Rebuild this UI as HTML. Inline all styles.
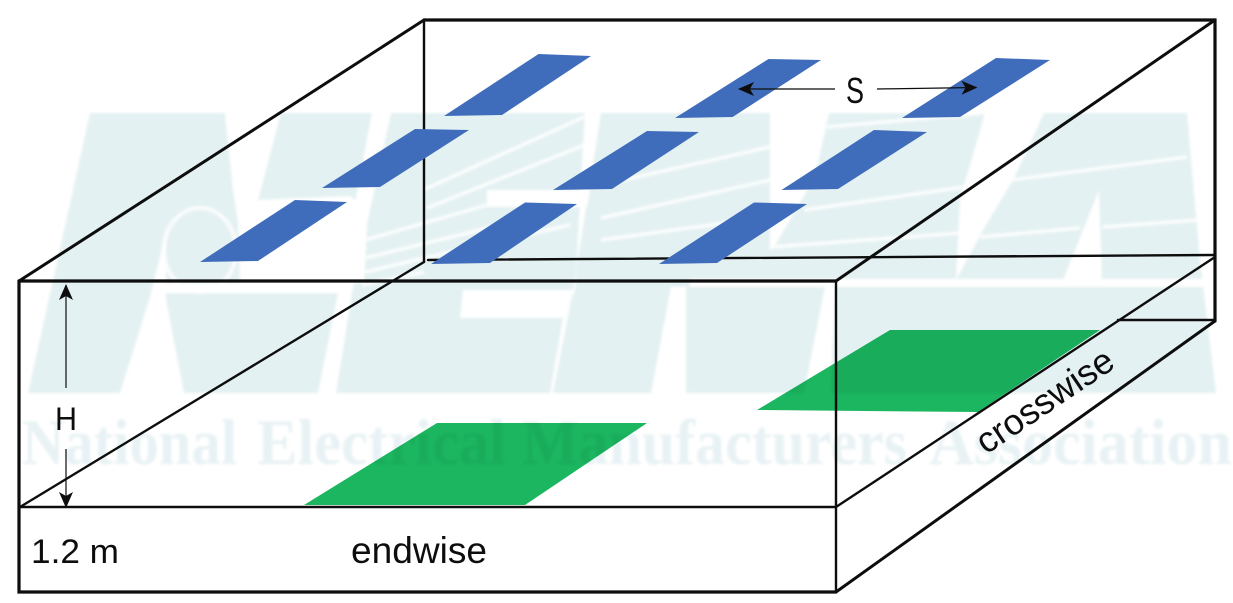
<!DOCTYPE html>
<html>
<head>
<meta charset="utf-8">
<style>
html,body{margin:0;padding:0;background:#fff;width:1233px;height:603px;overflow:hidden}
svg{display:block}
text{font-family:"Liberation Sans",sans-serif;fill:#111}
.wm{font-family:"Liberation Serif",serif;font-weight:bold;fill:#e8f2f4}
.g{mix-blend-mode:multiply}
</style>
</head>
<body>
<svg width="1233" height="603" viewBox="0 0 1233 603" xmlns="http://www.w3.org/2000/svg">
<defs>
<filter id="b" x="-2%" y="-2%" width="104%" height="104%"><feGaussianBlur stdDeviation="1.2"/></filter>
<filter id="s" x="-2%" y="-2%" width="104%" height="104%"><feGaussianBlur stdDeviation="0.35"/></filter>
<marker id="ah" viewBox="0 0 16 16" refX="15" refY="8" markerWidth="16" markerHeight="16" markerUnits="userSpaceOnUse" orient="auto-start-reverse"><path d="M0,1 L16,8 L0,15 L4,8 Z" fill="#111"/></marker>
</defs>

<!-- watermark -->
<g filter="url(#b)">
<polygon points="90,113 1187,113 1200,260 1216,393 28,393" fill="#e4f1f2"/>
<g fill="#fff">
<polygon points="120,393 150,297 160,257 166,227 166,300 184,393"/>
<polygon points="225,113 281,113 258,200 238,222 233,190"/>
<polygon points="238,222 258,200 350,196 368,210 364,283 240,283"/>
<polygon points="372,113 391,113 352,293 336,393 318,393 338,293"/>
<rect x="165" y="283" width="180" height="10"/>
<polygon points="460,318 563,318 575,290 463,290"/>
<polygon points="487,190 590,190 587,207 487,207"/>
<polygon points="585,113 601,113 573,290 553,393 550,393 563,318 575,290"/>
<polygon points="651,393 686,393 686,287 671,287"/>
<polygon points="770,113 829,113 815,177 774,247 770,250"/>
<polygon points="804,393 831,393 835,287 825,287"/>
<polygon points="985,113 1044,113 1013,180 983,230 956,280 960,200"/>
<polygon points="1099,190 1062,283 1102,283"/>
<rect x="690" y="279" width="526" height="8"/>
</g>
<ellipse cx="200" cy="250" rx="36" ry="42" fill="none" stroke="#fff" stroke-width="4" stroke-opacity="0.8"/>
<g stroke="#fff" fill="none" stroke-width="3.5" stroke-opacity="0.85">
<path d="M423,190 L593,113"/>
<path d="M427,208 L597,140"/>
<path d="M365,240 L487,205"/>
<path d="M365,258 L480,230 L575,205"/>
<path d="M365,272 L424,258 L570,225"/>
<path d="M362,285 L424,272"/>
<path d="M601,185 L770,147"/>
<path d="M601,218 L770,180"/>
<path d="M601,240 L770,217"/>
<path d="M827,127 L985,113"/>
<path d="M804,210 L964,187"/>
<path d="M772,247 L960,233"/>
<path d="M1011,180 L1187,157"/>
<path d="M980,237 L1080,228"/>
<path d="M1103,227 L1198,220"/>
</g>
<text class="wm" x="22" y="464" font-size="65" textLength="215" lengthAdjust="spacingAndGlyphs">National</text>
<text class="wm" x="257" y="464" font-size="65" textLength="249" lengthAdjust="spacingAndGlyphs">Electrical</text>
<text class="wm" x="522" y="464" font-size="65" textLength="385" lengthAdjust="spacingAndGlyphs">Manufacturers</text>
<text class="wm" x="929" y="464" font-size="65" textLength="303" lengthAdjust="spacingAndGlyphs">Association</text>
</g>

<!-- green -->
<g class="g">
<polygon points="437,423 647,423 525,505 304,505" fill="#1bb65f"/>
<polygon points="890,330 1100,330 978,412 757,410" fill="#1bb65f"/>
</g>

<g filter="url(#s)">
<!-- box -->
<g fill="none" stroke="#111" stroke-linecap="round">
<path stroke-width="3.2" d="M19,281 L836,281"/>
<path stroke-width="3.2" d="M19,281 L19,592 L836,592"/>
<path stroke-width="3.2" d="M424,20 L1215,20 L1215,321"/>
<path stroke-width="3" d="M19,281 L424,20"/>
<path stroke-width="3" d="M836,281 L1215,20"/>
<path stroke-width="2.4" d="M424,20 L424,262"/>
<path stroke-width="2.4" d="M424,262 L20,507"/>
<path stroke-width="2.4" d="M428,260 L1215,255"/>
<path stroke-width="2.4" d="M836,281 L836,592"/>
<path stroke-width="2.6" d="M19,507 L836,507"/>
<path stroke-width="2.4" d="M836,507 L1215,257"/>
<path stroke-width="3" d="M836,592 L1215,321"/>
<path stroke-width="2.6" d="M1118,320 L1215,320"/>
</g>

<!-- blue panels -->
<g fill="#3f6dbb">
<polygon points="538.5,54 591,56 502,115 444,116"/>
<polygon points="768.5,59 821,60 732.6,117 675,118"/>
<polygon points="996,58 1050,60 960,117 902,118"/>
<polygon points="415,129 469,130 380,187 322,188"/>
<polygon points="647,131 699,132 612,189 553,190"/>
<polygon points="874,130 927,132 838,189 781.5,190"/>
<polygon points="295,200 347,202 258,261 200,262"/>
<polygon points="525,202.5 577,204 490,263 431,264"/>
<polygon points="754,202.5 807,204 717,263 659,264"/>
</g>

<!-- arrows -->
<g stroke="#111" stroke-width="1.2" fill="none">
<path d="M66,388 L66,285" marker-end="url(#ah)"/>
<path d="M66,449 L66,507" marker-end="url(#ah)"/>
<path d="M835,89 L739,89" marker-end="url(#ah)"/>
<path d="M877,89 L976.5,87.5" marker-end="url(#ah)"/>
</g>

<!-- labels -->
<text x="55" y="430" font-size="32" textLength="22" lengthAdjust="spacingAndGlyphs">H</text>
<text x="846" y="103" font-size="36" textLength="18" lengthAdjust="spacingAndGlyphs">S</text>
<text x="31" y="563" font-size="34" textLength="88" lengthAdjust="spacingAndGlyphs">1.2 m</text>
<text x="351" y="563" font-size="37" textLength="136" lengthAdjust="spacingAndGlyphs">endwise</text>
<text transform="translate(986,455) rotate(-34)" font-size="36" textLength="158" lengthAdjust="spacingAndGlyphs">crosswise</text>
</g>
</svg>
</body>
</html>
